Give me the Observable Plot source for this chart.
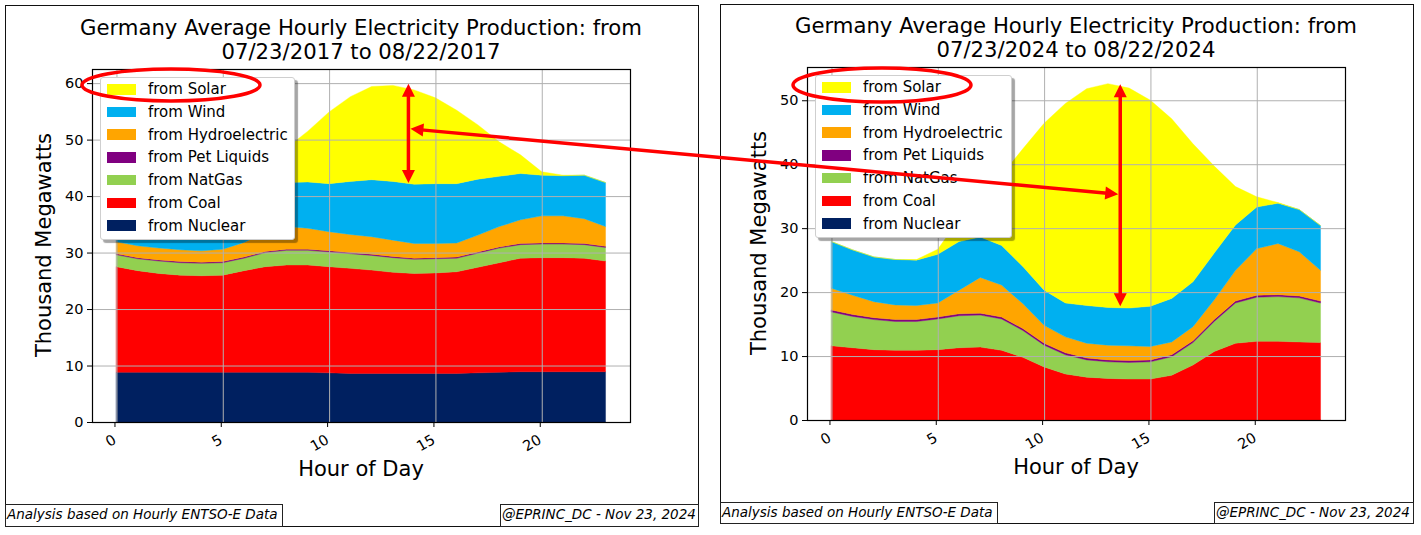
<!DOCTYPE html>
<html><head><meta charset="utf-8">
<script src="https://cdn.jsdelivr.net/npm/d3@7"></script>
<script src="https://cdn.jsdelivr.net/npm/@observablehq/plot@0.6"></script>
<style>
html,body{margin:0;padding:0;background:#fff;}
body{width:1421px;height:535px;position:relative;overflow:hidden;font-family:"DejaVu Sans",sans-serif;color:#000;}
.fig{position:absolute;border:1.5px solid #111;box-sizing:border-box;}
.chart{position:absolute;top:0;}
.title{position:absolute;font-size:21.2px;text-align:center;white-space:nowrap;line-height:23.5px;transform:translateX(-50%);}
.ylab{position:absolute;font-size:21px;white-space:nowrap;transform:translate(-50%,-50%) rotate(-90deg);}
.xlab{position:absolute;font-size:21px;white-space:nowrap;transform:translate(-50%,-50%);}
.foot{position:absolute;border:1.5px solid #222;font-style:italic;font-size:13.5px;box-sizing:border-box;line-height:19px;padding:0 1px;white-space:nowrap;background:#fff;}
.legend{position:absolute;background:#fff;border:1px solid #cfcfcf;border-radius:3px;box-shadow:3px 3px 1px rgba(0,0,0,0.35);box-sizing:border-box;}
.lrow{position:absolute;left:0;height:22px;line-height:22px;font-size:15px;white-space:nowrap;}
.patch{position:absolute;left:6px;width:29px;height:10.5px;top:5.75px;}
.ltext{position:absolute;left:47px;top:0;}
#overlay{position:absolute;left:0;top:0;pointer-events:none;}
</style></head>
<body>
<script>
// ---------- data ----------
const hours = [0,1,2,3,4,5,6,7,8,9,10,11,12,13,14,15,16,17,18,19,20,21,22,23];
const sources = ["from Solar","from Wind","from Hydroelectric","from Pet Liquids","from NatGas","from Coal","from Nuclear"]; // legend order (top to bottom)
const colors  = ["#ffff00","#00b0f0","#ffa500","#800080","#92d050","#ff0000","#002060"];
const stackOrder = ["from Nuclear","from Coal","from NatGas","from Pet Liquids","from Hydroelectric","from Wind","from Solar"];
const xTicks = [0,5,10,15,20];
const yTicks2017 = [0,10,20,30,40,50,60];
const yTicks2024 = [0,10,20,30,40,50];

// 2017 (thousand MW)
const nuclear2017 = [8.8,8.8,8.8,8.8,8.8,8.8,8.8,8.8,8.8,8.8,8.7,8.6,8.6,8.6,8.6,8.6,8.6,8.7,8.8,8.9,8.9,8.9,8.9,8.9];
const coal2017    = [18.7,18.0,17.5,17.2,17.1,17.2,18.0,18.7,19.0,19.0,18.8,18.6,18.3,17.9,17.7,17.8,18.0,18.7,19.4,20.1,20.2,20.2,20.1,19.6];
const natgas2017  = [2.1,2.1,2.2,2.2,2.2,2.2,2.2,2.5,2.6,2.6,2.6,2.6,2.6,2.6,2.5,2.5,2.4,2.5,2.6,2.4,2.4,2.4,2.4,2.4];
const pet2017     = [0.2,0.2,0.2,0.2,0.2,0.2,0.2,0.2,0.2,0.2,0.2,0.2,0.2,0.2,0.2,0.2,0.2,0.2,0.2,0.2,0.2,0.2,0.2,0.2];
const hydro2017   = [2.1,2.1,2.1,2.1,2.0,2.2,2.6,3.3,4.0,3.7,3.4,3.2,3.1,2.9,2.6,2.5,2.5,3.0,3.6,4.2,4.8,4.8,4.4,3.5];
const wind2017    = [10.1,10.6,10.7,10.8,10.9,10.7,9.8,8.5,7.8,8.2,8.5,9.4,10.1,10.4,10.5,10.6,10.5,9.9,8.9,8.2,7.2,7.1,7.7,7.8];
const solar2017   = [0,0,0,0,0.2,1.0,2.4,4.3,6.1,9.0,12.7,15.0,16.5,17.0,16.7,15.2,13.0,9.6,6.1,3.3,0.6,0.1,0,0];

// 2024 (thousand MW)
const nuclear2024 = [0,0,0,0,0,0,0,0,0,0,0,0,0,0,0,0,0,0,0,0,0,0,0,0];
const coal2024    = [11.6,11.3,11.0,10.9,10.9,11.0,11.3,11.4,10.9,9.8,8.3,7.2,6.7,6.5,6.4,6.4,7.0,8.6,10.7,12.0,12.3,12.3,12.2,12.1];
const natgas2024  = [5.3,4.9,4.7,4.5,4.5,4.8,5.0,5.0,4.9,4.2,3.4,3.0,2.7,2.6,2.6,2.7,2.9,3.5,4.7,6.3,6.9,7.0,6.9,6.2];
const pet2024     = [0.3,0.3,0.3,0.3,0.3,0.3,0.3,0.3,0.3,0.3,0.3,0.3,0.3,0.3,0.3,0.3,0.3,0.3,0.3,0.3,0.3,0.3,0.3,0.3];
const hydro2024   = [3.4,3.0,2.5,2.3,2.2,2.2,3.7,5.6,5.0,3.9,2.8,2.5,2.3,2.3,2.3,2.1,2.0,2.2,3.1,4.8,7.3,8.0,6.9,4.8];
const wind2024    = [7.3,7.1,7.0,7.1,7.1,7.6,7.6,6.3,6.2,5.8,5.5,5.3,5.9,5.9,5.9,6.3,6.8,7.0,7.3,7.1,6.5,6.3,6.6,7.0];
const solar2024   = [0,0,0,0,0.1,0.8,3.5,7.0,11.0,18.4,26.1,31.2,33.9,35.0,34.4,32.2,28.1,21.6,13.6,6.0,1.6,0.1,0,0];

// annotation values (data units)
const arrow2017 = {hour: 13.73, low: 42.3, high: 59.9, link: 51.9};
const arrow2024 = {hour: 13.58, low: 17.8, high: 52.5, link: 35.3};

// ---------- helpers ----------
function el(tag, cls, style, text) {
  const e = document.createElement(tag);
  if (cls) e.className = cls;
  if (style) e.setAttribute("style", style);
  if (text != null) e.textContent = text;
  document.body.appendChild(e);
  return e;
}

function buildTable(series) {
  const rows = [];
  stackOrder.forEach(s => {
    const vals = series[s];
    hours.forEach((h, i) => rows.push({hour: h, source: s, value: vals[i]}));
  });
  return rows;
}

function makeChart(cfg) {
  const data = buildTable(cfg.series);
  const chart = Plot.plot({
    width: cfg.width, height: 535,
    marginLeft: cfg.ml, marginRight: cfg.mr, marginTop: cfg.mt, marginBottom: cfg.mb,
    x: {domain: [-1.15, 24.15]},
    y: {domain: [0, cfg.yMax]},
    color: {domain: sources, range: colors},
    style: {fontFamily: "DejaVu Sans", fontSize: "14.5px", color: "#000", background: "transparent", overflow: "visible"},
    marks: [
      Plot.areaY(data, {x: "hour", y: "value", z: "source", fill: "source", stroke: "source", strokeWidth: 0.4, order: stackOrder}),
      Plot.gridX(xTicks, {stroke: "#b0b0b0", strokeOpacity: 1, strokeWidth: 1}),
      Plot.gridY(cfg.yTicks, {stroke: "#b0b0b0", strokeOpacity: 1, strokeWidth: 1}),
      Plot.axisX(xTicks, {tickRotate: -30, tickSize: 5, tickPadding: 11, dx: -2, label: null, fontSize: 14.5}),
      Plot.axisY(cfg.yTicks, {tickSize: 5, tickPadding: 4, label: null, fontSize: 14.5}),
      Plot.frame({stroke: "#000", strokeWidth: 1.2})
    ]
  });
  const wrap = el("div", "chart", `left:${cfg.left}px;width:${cfg.width}px;height:535px;`);
  wrap.appendChild(chart);
  return chart;
}

function legend(left, top, w) {
  const lg = el("div", "legend", `left:${left}px;top:${top}px;width:${w}px;height:163px;`);
  sources.forEach((s, i) => {
    const row = document.createElement("div");
    row.className = "lrow";
    row.style.top = (0.3 + 22.7 * i) + "px";
    row.style.width = w + "px";
    const p = document.createElement("div");
    p.className = "patch";
    p.style.background = colors[i];
    const t = document.createElement("div");
    t.className = "ltext";
    t.textContent = s;
    row.appendChild(p); row.appendChild(t);
    lg.appendChild(row);
  });
}

// ---------- figures ----------
el("div", "fig", "left:5px;top:5px;width:694px;height:522px;");
el("div", "fig", "left:720px;top:4px;width:694px;height:520px;");

const c1 = makeChart({
  left: 0, width: 710, ml: 92, mr: 80, mt: 69, mb: 535 - 422,
  yMax: 62.5, yTicks: yTicks2017,
  series: {"from Nuclear": nuclear2017, "from Coal": coal2017, "from NatGas": natgas2017, "from Pet Liquids": pet2017,
           "from Hydroelectric": hydro2017, "from Wind": wind2017, "from Solar": solar2017}
});
const c2 = makeChart({
  left: 715, width: 706, ml: 92, mr: 76, mt: 67, mb: 535 - 420,
  yMax: 55.2, yTicks: yTicks2024,
  series: {"from Nuclear": nuclear2024, "from Coal": coal2024, "from NatGas": natgas2024, "from Pet Liquids": pet2024,
           "from Hydroelectric": hydro2024, "from Wind": wind2024, "from Solar": solar2024}
});

// titles & labels
el("div", "title", "left:361px;top:16px;").innerHTML =
  "Germany Average Hourly Electricity Production: from<br>07/23/2017 to 08/22/2017";
el("div", "title", "left:1076px;top:14px;").innerHTML =
  "Germany Average Hourly Electricity Production: from<br>07/23/2024 to 08/22/2024";
el("div", "ylab", "left:44px;top:245px;", "Thousand Megawatts");
el("div", "ylab", "left:759px;top:243px;", "Thousand Megawatts");
el("div", "xlab", "left:361px;top:469px;", "Hour of Day");
el("div", "xlab", "left:1076px;top:467px;", "Hour of Day");

// legends
legend(100, 77, 195);
legend(815, 75, 197);

// footers
el("div", "foot", "left:5px;top:504px;width:278px;height:23px;", "Analysis based on Hourly ENTSO-E Data");
el("div", "foot", "left:500px;top:504px;width:199px;height:23px;", "@EPRINC_DC - Nov 23, 2024");
el("div", "foot", "left:720px;top:502px;width:278px;height:22px;", "Analysis based on Hourly ENTSO-E Data");
el("div", "foot", "left:1214px;top:502px;width:200px;height:22px;", "@EPRINC_DC - Nov 23, 2024");

// ---------- red annotations ----------
const NS = "http://www.w3.org/2000/svg";
const ov = document.createElementNS(NS, "svg");
ov.setAttribute("id", "overlay");
ov.setAttribute("width", 1421); ov.setAttribute("height", 535);
document.body.appendChild(ov);
const RED = "#ff0000";
function svg(tag, attrs) {
  const e = document.createElementNS(NS, tag);
  for (const k in attrs) e.setAttribute(k, attrs[k]);
  ov.appendChild(e);
  return e;
}
function head(x, y, ang, len, wid) {
  const ca = Math.cos(ang), sa = Math.sin(ang);
  const bx = x - ca * len, by = y - sa * len;
  const px = -sa * wid / 2, py = ca * wid / 2;
  svg("polygon", {points: `${x},${y} ${bx + px},${by + py} ${bx - px},${by - py}`, fill: RED});
}
function arrow(x1, y1, x2, y2, len, wid, sw) {
  const ang = Math.atan2(y2 - y1, x2 - x1);
  const ca = Math.cos(ang), sa = Math.sin(ang);
  svg("line", {x1: x1 + ca * (len - 2), y1: y1 + sa * (len - 2), x2: x2 - ca * (len - 2), y2: y2 - sa * (len - 2),
               stroke: RED, "stroke-width": sw});
  head(x2, y2, ang, len, wid);
  head(x1, y1, ang + Math.PI, len, wid);
}
function px(chart, offset, hour, v) {
  return [offset + chart.scale("x").apply(hour), chart.scale("y").apply(v)];
}
// vertical arrows spanning solar
let a = px(c1, 0, arrow2017.hour, arrow2017.high), b = px(c1, 0, arrow2017.hour, arrow2017.low);
arrow(a[0], a[1], b[0], b[1], 13, 13, 3.5);
a = px(c2, 715, arrow2024.hour, arrow2024.high); b = px(c2, 715, arrow2024.hour, arrow2024.low);
arrow(a[0], a[1], b[0], b[1], 13, 13, 3.5);
// long connecting arrow
a = px(c1, 0, arrow2017.hour, arrow2017.link); b = px(c2, 715, arrow2024.hour, arrow2024.link);
arrow(a[0] + 2, a[1], b[0] - 2, b[1], 13, 13, 3.5);
// ellipses around legend "from Solar"
svg("ellipse", {cx: 171, cy: 85, rx: 89, ry: 16, fill: "none", stroke: RED, "stroke-width": 3.5});
svg("ellipse", {cx: 882, cy: 85, rx: 89, ry: 17, fill: "none", stroke: RED, "stroke-width": 3.5});
</script>
</body></html>
